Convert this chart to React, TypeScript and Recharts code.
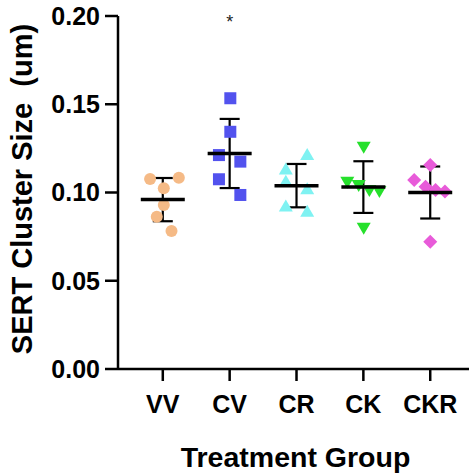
import React from 'react';
import { ComposedChart, Scatter, XAxis, YAxis, ErrorBar } from 'recharts';

const groups = ['VV', 'CV', 'CR', 'CK', 'CKR'];
const groupColors = ['#F5BA86', '#5252EE', '#7FF2F2', '#26E02C', '#E85BD9'];

// cluster sizes (um) per group
const vvValues = [0.1076, 0.1084, 0.1024, 0.0929, 0.0863, 0.0782];
const cvValues = [0.1534, 0.1344, 0.1212, 0.1175, 0.1075, 0.0986];
const crValues = [0.1212, 0.1131, 0.1061, 0.1018, 0.092, 0.0891];
const ckValues = [0.1259, 0.1061, 0.1042, 0.1014, 0.1008, 0.08];
const ckrValues = [0.1156, 0.1071, 0.1033, 0.1014, 0.1005, 0.0721];

// horizontal scatter of each point around its group (category units)
const vvJitter = [-0.19, 0.24, 0.015, 0.015, -0.09, 0.13];
const cvJitter = [0.01, 0.01, -0.16, 0.16, -0.16, 0.16];
const crJitter = [0.16, -0.16, -0.16, 0.16, -0.16, 0.16];
const ckJitter = [0.005, -0.24, -0.07, 0.09, 0.24, 0.005];
const ckrJitter = [0, -0.24, -0.07, 0.08, 0.22, 0];

const allValues = [vvValues, cvValues, crValues, ckValues, ckrValues];
const allJitter = [vvJitter, cvJitter, crJitter, ckJitter, ckrJitter];

const yTicks = [0, 0.05, 0.1, 0.15, 0.2];
const significance = [{ x: 2, y: 0.1977, text: '*' }];

const font = '"Liberation Sans", Arial, sans-serif';

const mean = (a: number[]) => a.reduce((s, v) => s + v, 0) / a.length;
const sd = (a: number[]) => {
  const m = mean(a);
  return Math.sqrt(a.reduce((s, v) => s + (v - m) ** 2, 0) / (a.length - 1));
};

const pointData = allValues.map((vals, g) =>
  vals.map((v, i) => ({ x: g + 1 + allJitter[g][i], y: v }))
);

const summary = allValues.map((vals, g) => ({ x: g + 1, y: mean(vals), err: sd(vals) }));

const shapes = [
  (p: any) => <circle cx={p.cx} cy={p.cy} r={6} fill={groupColors[0]} />,
  (p: any) => <rect x={p.cx - 6} y={p.cy - 6} width={12} height={12} fill={groupColors[1]} />,
  (p: any) => (
    <polygon
      points={`${p.cx},${p.cy - 7} ${p.cx - 7},${p.cy + 5} ${p.cx + 7},${p.cy + 5}`}
      fill={groupColors[2]}
    />
  ),
  (p: any) => (
    <polygon
      points={`${p.cx},${p.cy + 7} ${p.cx - 7},${p.cy - 5} ${p.cx + 7},${p.cy - 5}`}
      fill={groupColors[3]}
    />
  ),
  (p: any) => (
    <polygon
      points={`${p.cx},${p.cy - 7} ${p.cx + 7},${p.cy} ${p.cx},${p.cy + 7} ${p.cx - 7},${p.cy}`}
      fill={groupColors[4]}
    />
  ),
];

const MeanLine = (p: any) => (
  <line x1={p.cx - 22} x2={p.cx + 22} y1={p.cy} y2={p.cy} stroke="#000" strokeWidth={3.5} />
);

const Star = (p: any) => (
  <text x={p.cx} y={p.cy + 8} textAnchor="middle" fontSize={18} fontFamily={font} fill="#222">
    {p.payload.text}
  </text>
);

const App: React.FC = () => {
  return (
    <div style={{ position: 'absolute', left: 0, top: 0, background: '#fff' }}>
      <ComposedChart width={471} height={476} margin={{ top: 16, right: 2, bottom: 0, left: 0 }}>
        <XAxis
          type="number"
          dataKey="x"
          domain={[0.33, 5.58]}
          ticks={[1, 2, 3, 4, 5]}
          allowDataOverflow
          tickFormatter={(v: number) => groups[v - 1]}
          height={107}
          tickSize={12}
          tickMargin={14}
          axisLine={{ stroke: '#000', strokeWidth: 2.5 }}
          tickLine={{ stroke: '#000', strokeWidth: 2.5 }}
          tick={{ fill: '#000', fontSize: 25, fontWeight: 700, fontFamily: font }}
          label={(props: any) => {
            const vb = props.viewBox || {};
            return (
              <text
                x={vb.x + vb.width / 2 + 2}
                y={467}
                textAnchor="middle"
                fontSize={28.5}
                fontWeight={700}
                fontFamily={font}
                fill="#000"
              >
                Treatment Group
              </text>
            );
          }}
        />
        <YAxis
          type="number"
          dataKey="y"
          domain={[0, 0.2]}
          ticks={yTicks}
          tickFormatter={(v: number) => v.toFixed(2)}
          width={118}
          tickSize={13}
          tickMargin={5}
          axisLine={{ stroke: '#000', strokeWidth: 2.5 }}
          tickLine={{ stroke: '#000', strokeWidth: 2.5 }}
          tick={{ fill: '#000', fontSize: 25, fontWeight: 700, fontFamily: font }}
          label={() => (
            <text
              x={22}
              y={189}
              transform="rotate(-90 22 189)"
              textAnchor="middle"
              dominantBaseline="central"
              fontSize={29}
              fontWeight={700}
              fontFamily={font}
              fill="#000"
              style={{ whiteSpace: 'pre' }}
            >
              {'SERT Cluster Size\u00a0\u00a0(um)'}
            </text>
          )}
        />
        {pointData.map((d, g) => (
          <Scatter key={groups[g]} data={d} shape={shapes[g]} isAnimationActive={false} />
        ))}
        <Scatter data={summary} shape={MeanLine} isAnimationActive={false}>
          <ErrorBar dataKey="err" direction="y" width={10} stroke="#000" strokeWidth={2.2} />
        </Scatter>
        <Scatter data={significance} shape={Star} isAnimationActive={false} />
      </ComposedChart>
    </div>
  );
};

export default App;
